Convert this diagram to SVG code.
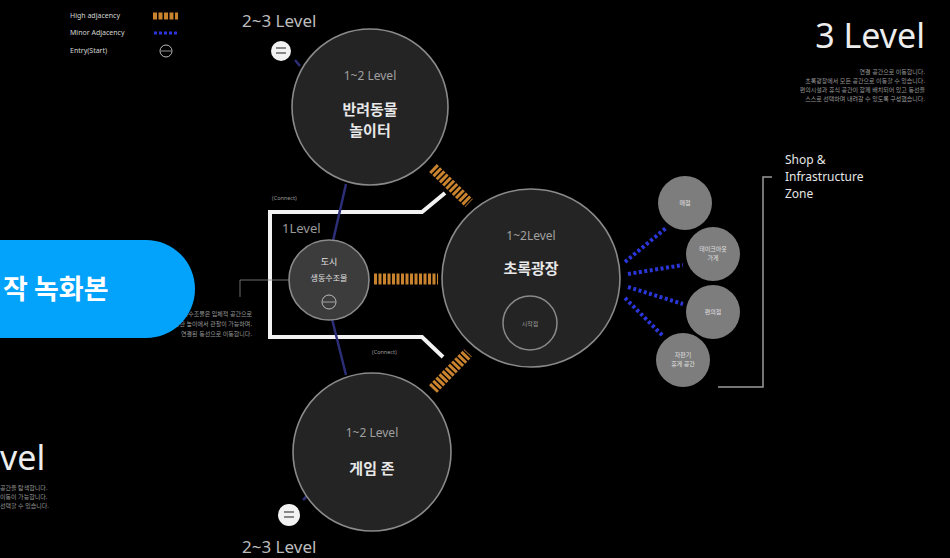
<svg xmlns="http://www.w3.org/2000/svg" width="950" height="558" viewBox="0 0 950 558">
<style>
text{font-family:"Noto Sans","Noto Sans CJK KR",sans-serif}
.lvl{fill:#bdbdbd;font-size:17px}
.big{fill:#ededed;font-size:34px}
.zone{fill:#242424;stroke:#8a8a8a;stroke-width:1.6}
.sub{fill:#a0a0a0;font-size:12px;text-anchor:middle}
.name{fill:#e8e8e8;font-size:15px;font-weight:bold;text-anchor:middle}
.tiny{fill:#9a9a9a;font-size:6px}
.leg{fill:#d6d6d6;font-size:7px}
.shop{fill:#7d7d7d}
.shopt{fill:#e0e0e0;font-size:6px;text-anchor:middle}
.high{stroke:#c9822e;stroke-width:11;stroke-dasharray:3 1.5;fill:none}
.minor{stroke:#2a36d8;stroke-width:4;stroke-dasharray:3 2.5;fill:none}
.navy{stroke:#2c2e78;stroke-width:2.5;fill:none}
.entry{fill:#f2f2f2}
</style>
<rect width="950" height="558" fill="#000"/>

<g id="legend">
<text x="70" y="18" class="leg">High adjacency</text>
<line x1="153" y1="16" x2="178" y2="16" stroke="#c9822e" stroke-width="7" stroke-dasharray="4 1.5"/>
<text x="70" y="35" class="leg">Minor Adjacency</text>
<line x1="154" y1="33" x2="178" y2="33" stroke="#2a36d8" stroke-width="3" stroke-dasharray="3 2"/>
<text x="70" y="53" class="leg">Entry(Start)</text>
<circle cx="166" cy="51" r="6" fill="none" stroke="#bbb" stroke-width="1"/>
<line x1="161" y1="51" x2="171" y2="51" stroke="#bbb" stroke-width="0.8"/>
</g>

<g id="title3">
<text x="925" y="48" class="big" text-anchor="end">3 Level</text>
<text x="925" y="74" class="tiny" text-anchor="end">연결 공간으로 이동합니다.</text>
<text x="925" y="83" class="tiny" text-anchor="end">초록광장에서 모든 공간으로 이동할 수 있습니다.</text>
<text x="925" y="92" class="tiny" text-anchor="end">편의시설과 휴식 공간이 함께 배치되어 있고 동선을</text>
<text x="925" y="101" class="tiny" text-anchor="end">스스로 선택하며 내려갈 수 있도록 구성했습니다.</text>
</g>

<g id="title2">
<text x="0" y="470" class="big">vel</text>
<text x="0" y="490" class="tiny">공간을 탐색합니다.</text>
<text x="0" y="499" class="tiny">이동이 가능합니다.</text>
<text x="0" y="508" class="tiny">선택할 수 있습니다.</text>
</g>

<g id="connectors">
<path d="M445 193 L422 212 L270 212 L270 337 L422 337 L443 357" fill="none" stroke="#f2f2f2" stroke-width="4"/>
<line x1="346" y1="184" x2="333" y2="241" class="navy"/>
<line x1="332" y1="319" x2="346" y2="375" class="navy"/>
<line x1="295" y1="60" x2="300" y2="66" class="navy"/>
<line x1="303" y1="500" x2="307" y2="496" class="navy"/>
<line x1="433" y1="168" x2="469" y2="203" class="high"/>
<line x1="374" y1="279" x2="438" y2="279" class="high" stroke-width="13"/>
<line x1="433" y1="389" x2="468" y2="353" class="high"/>
<line x1="625" y1="262" x2="666" y2="228" class="minor"/>
<line x1="628" y1="274" x2="683" y2="265" class="minor"/>
<line x1="628" y1="287" x2="683" y2="304" class="minor"/>
<line x1="625" y1="298" x2="663" y2="336" class="minor"/>
<path d="M289 280 L240 280 L240 297" fill="none" stroke="#888" stroke-width="0.8"/>
<path d="M772 177 L763 177 L763 387 L718 387" fill="none" stroke="#9a9a9a" stroke-width="1.5"/>
<text x="272" y="200" class="tiny" style="font-size:5.5px">(Connect)</text>
<text x="372" y="354" class="tiny" style="font-size:5.5px">(Connect)</text>
<text x="282" y="233" fill="#9a9a9a" font-size="13">1Level</text>
</g>

<g id="note-left">
<text x="252" y="316" class="tiny" text-anchor="end">도시 생동수조물은 입체적 공간으로</text>
<text x="252" y="326" class="tiny" text-anchor="end">다양한 높이에서 관찰이 가능하며,</text>
<text x="252" y="336" class="tiny" text-anchor="end">연결된 동선으로 이동합니다.</text>
</g>

<g id="top-entry">
<text x="242" y="27" class="lvl">2~3 Level</text>
<circle cx="281" cy="51" r="10" class="entry"/>
<rect x="276" y="47" width="10" height="2" fill="#888"/>
<rect x="276" y="52" width="10" height="2" fill="#888"/>
</g>

<g id="zone-pet">
<circle cx="370" cy="107" r="78" class="zone"/>
<text x="370" y="80" class="sub">1~2 Level</text>
<text x="370" y="115" class="name">반려동물</text>
<text x="370" y="136" class="name">놀이터</text>
</g>

<g id="zone-city">
<circle cx="329" cy="280" r="40" class="zone" style="fill:#3c3c3c"/>
<text x="329" y="265" class="shopt" style="font-size:9px">도시</text>
<text x="329" y="281" class="shopt" style="font-size:8px">생동수조물</text>
<circle cx="329" cy="302" r="7" fill="none" stroke="#bbb" stroke-width="1"/>
<line x1="323" y1="302" x2="335" y2="302" stroke="#bbb" stroke-width="0.8"/>
</g>

<g id="zone-green">
<circle cx="531" cy="278" r="89" class="zone"/>
<text x="531" y="240" class="sub">1~2Level</text>
<text x="531" y="274" class="name">초록광장</text>
<circle cx="530" cy="323" r="27" fill="none" stroke="#8a8a8a" stroke-width="1.5"/>
<text x="530" y="326" class="shopt" style="fill:#9a9a9a">시작점</text>
</g>

<g id="zone-game">
<circle cx="372" cy="452" r="79" class="zone"/>
<text x="372" y="437" class="sub">1~2 Level</text>
<text x="372" y="474" class="name">게임 존</text>
</g>

<g id="bottom-entry">
<circle cx="289" cy="515" r="11" class="entry"/>
<rect x="284" y="511" width="10" height="2" fill="#888"/>
<rect x="284" y="516" width="10" height="2" fill="#888"/>
<text x="242" y="553" class="lvl">2~3 Level</text>
</g>

<g id="shop-1"><circle cx="685" cy="203" r="27" class="shop"/><text x="685" y="205" class="shopt">매점</text></g>
<g id="shop-2"><circle cx="713" cy="254" r="27" class="shop"/><text x="713" y="251" class="shopt">테이크아웃</text><text x="713" y="260" class="shopt">가게</text></g>
<g id="shop-3"><circle cx="713" cy="312" r="27" class="shop"/><text x="713" y="314" class="shopt">편의점</text></g>
<g id="shop-4"><circle cx="683" cy="360" r="27" class="shop"/><text x="683" y="357" class="shopt">자판기</text><text x="683" y="366" class="shopt">휴게 공간</text></g>

<g id="zone-label">
<text x="785" y="164" fill="#e6e6e6" font-size="12">Shop &amp;</text>
<text x="785" y="181" fill="#e6e6e6" font-size="12">Infrastructure</text>
<text x="785" y="198" fill="#e6e6e6" font-size="12">Zone</text>
</g>

<g id="badge">
<rect x="-60" y="240" width="255" height="98" rx="49" fill="#03a3fb"/>
<text x="3" y="299" fill="#fff" font-size="27" font-weight="bold" style="font-family:'Noto Sans CJK KR',sans-serif">작 녹화본</text>
</g>
</svg>
